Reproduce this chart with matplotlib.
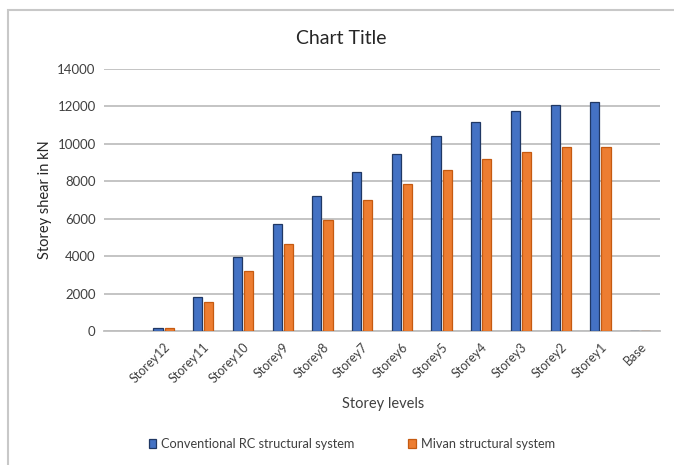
import matplotlib
matplotlib.use("Agg")
import matplotlib.pyplot as plt
import numpy as np
from matplotlib.patches import Rectangle

categories = ["Storey12", "Storey11", "Storey10", "Storey9", "Storey8", "Storey7",
              "Storey6", "Storey5", "Storey4", "Storey3", "Storey2", "Storey1", "Base"]
conventional = [160, 1830, 3950, 5710, 7210, 8470, 9480, 10440, 11190, 11780, 12100, 12210, 0]
mivan = [160, 1550, 3200, 4650, 5930, 7000, 7880, 8625, 9215, 9590, 9855, 9855, 0]
yticks = [0, 2000, 4000, 6000, 8000, 10000, 12000, 14000]

plt.rcParams['font.family'] = ['Lato', 'DejaVu Sans']

fig = plt.figure(figsize=(6.74, 4.65), dpi=100)
ax = fig.add_axes([104/674, 1-331/465, (660-104)/674, (331-69)/465])

x = np.arange(len(categories))
w = 0.23
off = 0.14
ax.bar(x - off, conventional, width=w, color='#4472C4', edgecolor='#203864', linewidth=0.9,
       label='Conventional RC structural system', zorder=3)
ax.bar(x + off, mivan, width=w, color='#ED7D31', edgecolor='#C55A11', linewidth=0.9,
       label='Mivan structural system', zorder=3)

ax.set_xlim(-1.5, 12.5)
ax.set_ylim(0, 14000)
ax.set_yticks(yticks)
ax.set_yticklabels([str(v) for v in yticks], fontsize=9.5, color='#404040')
ax.set_xticks(x)
ax.set_xticklabels(categories, rotation=45, ha='right', rotation_mode='anchor',
                   fontsize=9, color='#404040')
ax.tick_params(axis='both', length=0, pad=6)
ax.tick_params(axis='x', pad=7)
ax.grid(axis='y', color='#BFBFBF', linewidth=1.3, zorder=0)
for s in ['top', 'right', 'left']:
    ax.spines[s].set_visible(False)
ax.spines['bottom'].set_color('#BFBFBF')
ax.spines['bottom'].set_linewidth(1.3)

ax.set_ylabel('Storey shear in kN', fontsize=10.5, color='#262626', labelpad=4)
fig.text(383/674, 1-404/465, 'Storey levels', ha='center', va='center', fontsize=10.5, color='#404040')
fig.text(341/674, 1-38/465, 'Chart Title', ha='center', va='center', fontsize=14, color='#262626')

leg = fig.legend(loc='center', bbox_to_anchor=(352/674, 1-444/465), ncol=2, frameon=False,
                 fontsize=9.2, handlelength=0.6, handleheight=0.6, columnspacing=4.2,
                 handletextpad=0.4, labelcolor='#404040')

fig.patches.append(Rectangle((8/674, -0.05), 1.0, 1 - 10/465 + 0.05, transform=fig.transFigure,
                             fill=False, edgecolor='#C8C8C8', linewidth=1.5))

fig.savefig('out.png', dpi=100)
